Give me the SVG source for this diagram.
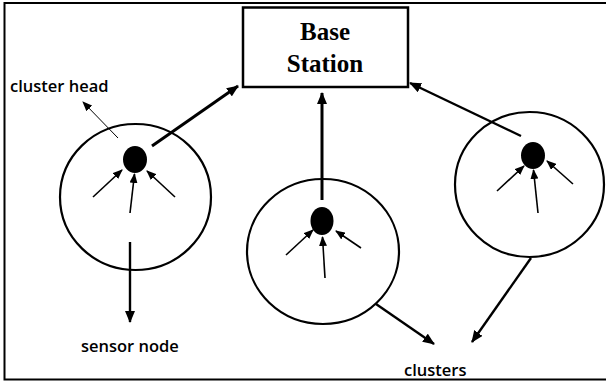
<svg xmlns="http://www.w3.org/2000/svg" width="606" height="382" viewBox="0 0 606 382">
  <defs>
    <style>
      .frame { fill: none; stroke: #000; stroke-width: 2; }
      .box { fill: #fff; stroke: #000; stroke-width: 2.5; }
      .cluster { fill: none; stroke: #000; stroke-width: 2.2; }
      .head { fill: #000; }
      .thick { stroke: #000; stroke-width: 3; fill: none; marker-end: url(#big); }
      .small { stroke: #000; stroke-width: 1.6; fill: none; marker-end: url(#sm); }
      .thin { stroke: #000; stroke-width: 1; fill: none; marker-end: url(#sm); }
      .med { stroke: #000; stroke-width: 2.4; fill: none; marker-end: url(#big); }
      .title { font-family: "Liberation Serif", "Times New Roman", serif; font-weight: bold; font-size: 25px; fill: #000; text-anchor: middle; }
      .label { font-family: "Open Sans", "Liberation Sans", sans-serif; font-weight: 600; font-size: 16.5px; fill: #000; }
    </style>
    <marker id="big" viewBox="0 0 12 10" markerWidth="12" markerHeight="10" refX="11" refY="5" orient="auto" markerUnits="userSpaceOnUse">
      <path d="M0,0 L12,5 L0,10 z" fill="#000"/>
    </marker>
    <marker id="sm" viewBox="0 0 10 8" markerWidth="10" markerHeight="8" refX="9" refY="4" orient="auto" markerUnits="userSpaceOnUse">
      <path d="M0,0 L10,4 L0,8 z" fill="#000"/>
    </marker>
  </defs>

  <rect class="frame" x="4.5" y="3" width="620" height="376.5"/>

  <g id="base-station">
    <rect class="box" x="243" y="7.5" width="165" height="79.5"/>
    <text class="title" x="325" y="40">Base</text>
    <text class="title" x="325" y="72">Station</text>
  </g>

  <g id="cluster-left">
    <ellipse class="cluster" cx="135.5" cy="197" rx="75.5" ry="73"/>
    <ellipse class="head" cx="135" cy="159.5" rx="12" ry="13.5"/>
  </g>

  <g id="cluster-middle">
    <ellipse class="cluster" cx="323" cy="251.5" rx="76" ry="72.5"/>
    <ellipse class="head" cx="322" cy="221" rx="11.5" ry="14"/>
  </g>

  <g id="cluster-right">
    <ellipse class="cluster" cx="529.5" cy="184.5" rx="74.5" ry="72.5"/>
    <ellipse class="head" cx="533" cy="155.5" rx="12" ry="13.5"/>
  </g>

  <g id="label-cluster-head"><text class="label" x="10" y="92">cluster head</text></g>
  <g id="label-sensor-node"><text class="label" x="81" y="352">sensor node</text></g>
  <g id="label-clusters"><text class="label" x="404" y="376">clusters</text></g>

  <g id="connectors">
    <line class="thick" x1="152" y1="146" x2="238" y2="86"/>
    <line class="thick" x1="322" y1="200" x2="322" y2="93"/>
    <line class="med" x1="521" y1="136" x2="410" y2="83"/>
    <line class="small" x1="93" y1="197" x2="122" y2="170"/>
    <line class="small" x1="130" y1="213" x2="134.5" y2="174"/>
    <line class="small" x1="175" y1="197" x2="147" y2="171"/>
    <line class="small" x1="286" y1="255" x2="313" y2="230"/>
    <line class="small" x1="325" y1="278" x2="322.5" y2="237"/>
    <line class="small" x1="361" y1="248" x2="336" y2="231"/>
    <line class="small" x1="497" y1="191" x2="524" y2="166"/>
    <line class="small" x1="538" y1="213" x2="533.5" y2="170"/>
    <line class="small" x1="573" y1="184" x2="547" y2="161"/>
    <line class="thin" x1="118" y1="138" x2="83" y2="102"/>
    <line class="med" x1="130" y1="242" x2="130" y2="322"/>
    <line class="med" x1="376" y1="304" x2="434" y2="344"/>
    <line class="med" x1="531" y1="258" x2="472" y2="342"/>
  </g>
</svg>
